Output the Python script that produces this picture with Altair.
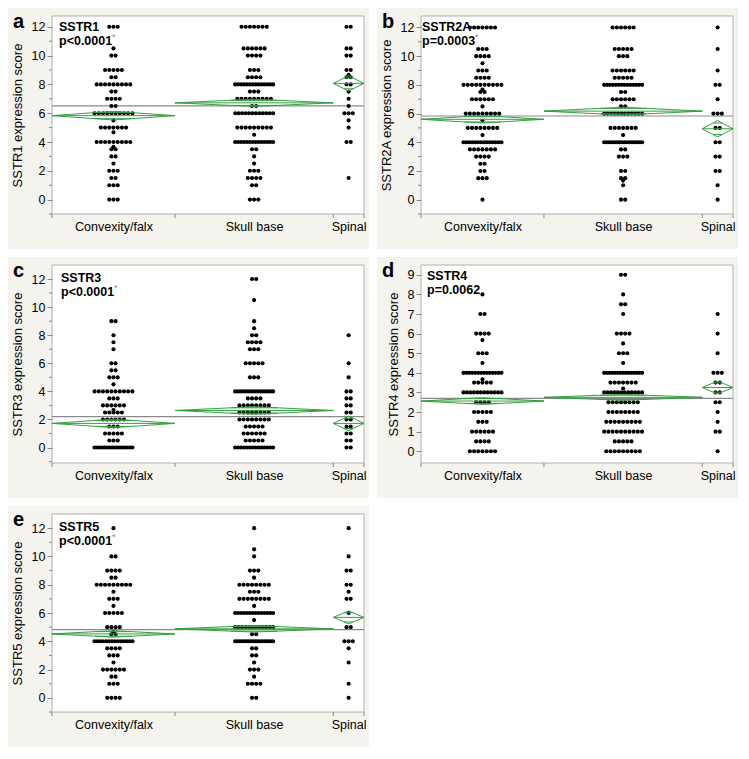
import math
import altair as alt
import pandas as pd

# ---------------- data ----------------
GROUPS = ["Convexity/falx", "Skull base", "Spinal"]
GROUP_N = [80, 103, 20]

# Panel a - SSTR1
A_CONV_V = [12, 10.5, 10, 9, 8.5, 8, 7.5, 7, 6.5, 6, 5.5, 5, 4.67, 4, 3.67, 3.5, 3, 2.5, 2, 1.5, 1, 0]
A_CONV_C = [3, 1, 2, 5, 2, 9, 2, 4, 2, 10, 1, 7, 1, 9, 1, 2, 2, 1, 3, 2, 3, 3]
A_SKULL_V = [12, 10.5, 10, 9, 8.5, 8, 7.5, 7, 6.5, 6, 5, 4.5, 4, 3.5, 3, 2.5, 2, 1.5, 1, 0]
A_SKULL_C = [7, 6, 4, 3, 4, 14, 3, 9, 2, 12, 9, 1, 14, 2, 1, 1, 3, 4, 2, 3]
A_SPIN_V = [12, 10.5, 10, 9, 8.67, 8.5, 8, 7.5, 7, 6.5, 6, 5.5, 5, 4, 1.5]
A_SPIN_C = [2, 2, 2, 2, 1, 2, 2, 1, 1, 1, 3, 1, 1, 2, 1]
A_MEANS = [5.83, 6.72, 8.07]
A_CI = [0.30, 0.25, 0.53]
A_GRAND = 6.51

# Panel b - SSTR2A
B_CONV_V = [12, 10.5, 10, 9.5, 9, 8.5, 8, 7.67, 7.5, 7, 6.5, 6, 5.5, 5, 4.5, 4, 3.5, 3, 2.5, 2, 1.5, 0]
B_CONV_C = [7, 3, 4, 1, 3, 4, 10, 1, 2, 6, 1, 9, 1, 8, 1, 14, 7, 4, 2, 2, 3, 1]
B_SKULL_V = [12, 10.5, 10, 9, 8.5, 8, 7.5, 7, 6.5, 6, 5, 4.5, 4, 3.5, 3, 2, 1.5, 1.33, 1, 0]
B_SKULL_C = [6, 5, 3, 6, 5, 14, 2, 6, 2, 12, 7, 1, 16, 2, 3, 2, 2, 1, 1, 2]
B_SPIN_V = [12, 10.5, 9, 8, 7, 6, 5, 4, 3, 2, 1, 0]
B_SPIN_C = [1, 1, 1, 2, 1, 3, 2, 2, 2, 2, 1, 1]
B_MEANS = [5.60, 6.17, 4.94]
B_CI = [0.26, 0.27, 0.57]
B_GRAND = 5.83

# Panel c - SSTR3
C_CONV_V = [9, 8, 7.5, 7, 6, 5.5, 5, 4.5, 4, 3.5, 3, 2.67, 2.5, 2, 1.5, 1, 0.5, 0]
C_CONV_C = [2, 1, 1, 1, 2, 2, 3, 1, 10, 3, 6, 1, 5, 6, 3, 5, 3, 16]
C_SKULL_V = [12, 10.5, 9, 8.5, 8, 7.5, 7, 6, 5, 4, 3.5, 3, 2.5, 2, 1.5, 1, 0.5, 0]
C_SKULL_C = [2, 1, 1, 1, 2, 4, 3, 5, 3, 16, 4, 8, 8, 8, 5, 6, 5, 14]
C_SPIN_V = [8, 6, 5, 4, 3.5, 3, 2.5, 2, 1.5, 1, 0.5, 0]
C_SPIN_C = [1, 1, 1, 2, 2, 2, 2, 2, 2, 2, 2, 2]
C_MEANS = [1.72, 2.64, 1.72]
C_CI = [0.30, 0.27, 0.52]
C_GRAND = 2.20

# Panel d - SSTR4
D_CONV_V = [8, 7, 6, 5.67, 5, 4.5, 4, 3.67, 3.5, 3, 2.5, 2, 1.5, 1, 0.5, 0]
D_CONV_C = [1, 2, 4, 1, 3, 1, 14, 1, 5, 12, 4, 5, 3, 6, 4, 7]
D_SKULL_V = [9, 8, 7.5, 7, 6, 5.5, 5, 4.5, 4, 3.5, 3.2, 3, 2.5, 2, 1.5, 1, 0.5, 0]
D_SKULL_C = [2, 1, 2, 1, 4, 1, 3, 1, 15, 7, 1, 12, 8, 8, 9, 10, 5, 9]
D_SPIN_V = [7, 6, 5, 4, 3.5, 3, 2.5, 2, 1.5, 1, 0]
D_SPIN_C = [1, 1, 1, 3, 2, 2, 2, 1, 1, 2, 1]
D_MEANS = [2.56, 2.75, 3.25]
D_CI = [0.17, 0.15, 0.33]
D_GRAND = 2.70

# Panel e - SSTR5
E_CONV_V = [12, 10, 9, 8.5, 8, 7.5, 7, 6.5, 6, 5, 4.67, 4.5, 4, 3.5, 3, 2.5, 2, 1.5, 1, 0]
E_CONV_C = [1, 2, 4, 2, 9, 1, 3, 1, 5, 4, 1, 2, 14, 4, 3, 1, 6, 2, 3, 4]
E_SKULL_V = [12, 10.5, 10, 9, 8.5, 8, 7.5, 7, 6.5, 6, 5.5, 5, 4.5, 4, 3.5, 3, 2.5, 2, 1.5, 1, 0]
E_SKULL_C = [1, 1, 1, 3, 1, 8, 3, 8, 1, 14, 1, 12, 2, 18, 2, 2, 1, 3, 1, 4, 2]
E_SPIN_V = [12, 10, 9, 8, 7.5, 7, 6, 5, 4, 3.5, 2.5, 1, 0]
E_SPIN_C = [1, 1, 2, 2, 1, 2, 1, 2, 3, 1, 1, 1, 1]
E_MEANS = [4.52, 4.88, 5.69]
E_CI = [0.23, 0.23, 0.46]
E_GRAND = 4.82

# ---------------- layout / style ----------------
PLOT_W = 312
PLOT_H = 198
LEFT, RIGHT, TOP, BOTTOM = 44, 5, 8, 35
BEIGE = "#f4f3ee"
GREEN = "#34a040"
FRAME = "#b0b0b0"
FONT = "Liberation Sans"
DOT_GAP = 4.2     # px between dots sharing a value
DOT_SPAN = 38.0   # max px width of a row of dots

TOTAL = sum(GROUP_N)
BOUNDS = [0]
for n in GROUP_N:
    BOUNDS.append(BOUNDS[-1] + n)
CENTERS = [(BOUNDS[i] + BOUNDS[i + 1]) / 2 for i in range(len(GROUP_N))]
UNIT_PER_PX = TOTAL / PLOT_W

label_expr = ("datum.value < {b1} ? '{g0}' : datum.value < {b2} ? '{g1}' : '{g2}'"
              .format(b1=BOUNDS[1], b2=BOUNDS[2], g0=GROUPS[0], g1=GROUPS[1], g2=GROUPS[2]))


def build_points(groups):
    rows = []
    for gi, (vals, cnts) in enumerate(groups):
        c = CENTERS[gi]
        for v, k in zip(vals, cnts):
            span = min((k - 1) * DOT_GAP, DOT_SPAN)
            for i in range(k):
                off = 0.0 if k == 1 else -span / 2 + i * span / (k - 1)
                rows.append({"x": c + off * UNIT_PER_PX, "y": v})
    return pd.DataFrame(rows)


def panel(letter, name, pval, star, groups, means, cis, grand, ydom, yvals, yminor, tx, ty):
    xscale = alt.Scale(domain=[0, TOTAL], nice=False, zero=False)
    yscale = alt.Scale(domain=ydom, nice=False, zero=False)
    xaxis = alt.Axis(values=CENTERS, labelExpr=label_expr, ticks=False, domain=False, grid=False,
                     labelFontSize=12.5, labelPadding=6, labelFlush=False, labelOverlap=False,
                     labelColor="black", title=None, zindex=1, labelFont=FONT)
    yaxis = alt.Axis(values=yvals, tickSize=5, tickColor="#888888", domain=False, grid=False,
                     labelFontSize=12.5, labelPadding=2, labelColor="black", labelFont=FONT,
                     title=f"{name} expression score", titleFontSize=13, titleFontWeight="normal",
                     titleFont=FONT, titleColor="black", titlePadding=7, zindex=1)

    def X(f="x"):
        return alt.X(f, type="quantitative", scale=xscale, axis=xaxis)

    def Y(f="y"):
        return alt.Y(f, type="quantitative", scale=yscale, axis=yaxis)

    one = alt.Data(values=[{"k": 1}])

    beige = alt.Chart(one).mark_rect(color=BEIGE).encode(
        x=alt.value(-LEFT), x2=alt.value(PLOT_W + RIGHT),
        y=alt.value(-TOP), y2=alt.value(PLOT_H + BOTTOM))
    frame = alt.Chart(one).mark_rect(fill="white", stroke=FRAME, strokeWidth=1).encode(
        x=alt.value(0), x2=alt.value(PLOT_W), y=alt.value(0), y2=alt.value(PLOT_H))

    bt = pd.DataFrame({"x": BOUNDS})
    bticks = alt.Chart(bt).mark_rule(color="#888888").encode(
        x=X(), y=alt.value(PLOT_H), y2=alt.value(PLOT_H + 4))

    layers = [beige, frame, bticks]
    if yminor:
        mt = pd.DataFrame({"y": yminor})
        layers.append(alt.Chart(mt).mark_rule(color="#888888").encode(
            y=Y(), x=alt.value(-3), x2=alt.value(0)))

    gdf = pd.DataFrame({"y": [grand]})
    layers.append(alt.Chart(gdf).mark_rule(color="#8a8a8a", strokeWidth=1.2).encode(
        y=Y(), x=alt.value(0), x2=alt.value(PLOT_W)))

    pts = build_points(groups)
    layers.append(alt.Chart(pts).mark_circle(size=17, color="black", opacity=1).encode(x=X(), y=Y()))

    drows, rrows = [], []
    for gi in range(len(GROUP_N)):
        xl, xr, xc = BOUNDS[gi], BOUNDS[gi + 1], CENTERS[gi]
        m, c = means[gi], cis[gi]
        for o, (xx, yy) in enumerate([(xl, m), (xc, m + c), (xr, m), (xc, m - c), (xl, m)]):
            drows.append({"g": gi, "o": o, "x": xx, "y": yy})
        rrows.append({"x": xl, "x2": xr, "y": m})
        d = c / math.sqrt(2)
        hw = (xr - xl) / 2 * (1 - 1 / math.sqrt(2))
        rrows.append({"x": xc - hw, "x2": xc + hw, "y": m + d})
        rrows.append({"x": xc - hw, "x2": xc + hw, "y": m - d})
    layers.append(alt.Chart(pd.DataFrame(drows)).mark_line(color=GREEN, strokeWidth=1).encode(
        x=X(), y=Y(), detail="g:N", order="o:Q"))
    layers.append(alt.Chart(pd.DataFrame(rrows)).mark_rule(color=GREEN, strokeWidth=1).encode(
        x=X(), x2="x2:Q", y=Y()))

    layers.append(alt.Chart(one).mark_text(text=name, font=FONT, fontSize=12.5, fontWeight="bold",
                                           align="left", baseline="alphabetic", color="black").encode(
        x=alt.value(tx), y=alt.value(ty)))
    layers.append(alt.Chart(one).mark_text(text=pval, font=FONT, fontSize=12.5, fontWeight="bold",
                                           align="left", baseline="alphabetic", color="black").encode(
        x=alt.value(tx), y=alt.value(ty + 14)))
    if star:
        layers.append(alt.Chart(one).mark_text(text="*", font=FONT, fontSize=9, align="left",
                                               baseline="alphabetic", color="#888888").encode(
            x=alt.value(tx + 53), y=alt.value(ty + 9)))
    layers.append(alt.Chart(one).mark_text(text=letter, font=FONT, fontSize=20, fontWeight="bold",
                                           align="left", baseline="alphabetic", color="black").encode(
        x=alt.value(-LEFT + 5), y=alt.value(-TOP + 20)))

    return alt.layer(*layers).properties(width=PLOT_W, height=PLOT_H)


EVEN12 = [0, 2, 4, 6, 8, 10, 12]
ODD12 = [-1, 1, 3, 5, 7, 9, 11]

pa = panel("a", "SSTR1", "p<0.0001", True,
           [(A_CONV_V, A_CONV_C), (A_SKULL_V, A_SKULL_C), (A_SPIN_V, A_SPIN_C)],
           A_MEANS, A_CI, A_GRAND, [-1, 12.75], EVEN12, ODD12, 7, 15)
pb = panel("b", "SSTR2A", "p=0.0003", True,
           [(B_CONV_V, B_CONV_C), (B_SKULL_V, B_SKULL_C), (B_SPIN_V, B_SPIN_C)],
           B_MEANS, B_CI, B_GRAND, [-1, 12.8], EVEN12, ODD12, 1, 15)
pc = panel("c", "SSTR3", "p<0.0001", True,
           [(C_CONV_V, C_CONV_C), (C_SKULL_V, C_SKULL_C), (C_SPIN_V, C_SPIN_C)],
           C_MEANS, C_CI, C_GRAND, [-1.1, 13.0], EVEN12, ODD12, 9, 17)
pd_ = panel("d", "SSTR4", "p=0.0062", False,
            [(D_CONV_V, D_CONV_C), (D_SKULL_V, D_SKULL_C), (D_SPIN_V, D_SPIN_C)],
            D_MEANS, D_CI, D_GRAND, [-0.6, 9.5], list(range(0, 10)), [], 6, 15)
pe = panel("e", "SSTR5", "p<0.0001", True,
           [(E_CONV_V, E_CONV_C), (E_SKULL_V, E_SKULL_C), (E_SPIN_V, E_SPIN_C)],
           E_MEANS, E_CI, E_GRAND, [-1, 13.0], EVEN12, ODD12, 7, 17)

row1 = alt.hconcat(pa, pb, spacing=8)
row2 = alt.hconcat(pc, pd_, spacing=8)
chart = alt.vconcat(row1, row2, pe, spacing=8).properties(padding=0, background="white") \
    .configure_view(stroke=None)

chart.save("out.html", embed_options={"renderer": "svg", "actions": False})
